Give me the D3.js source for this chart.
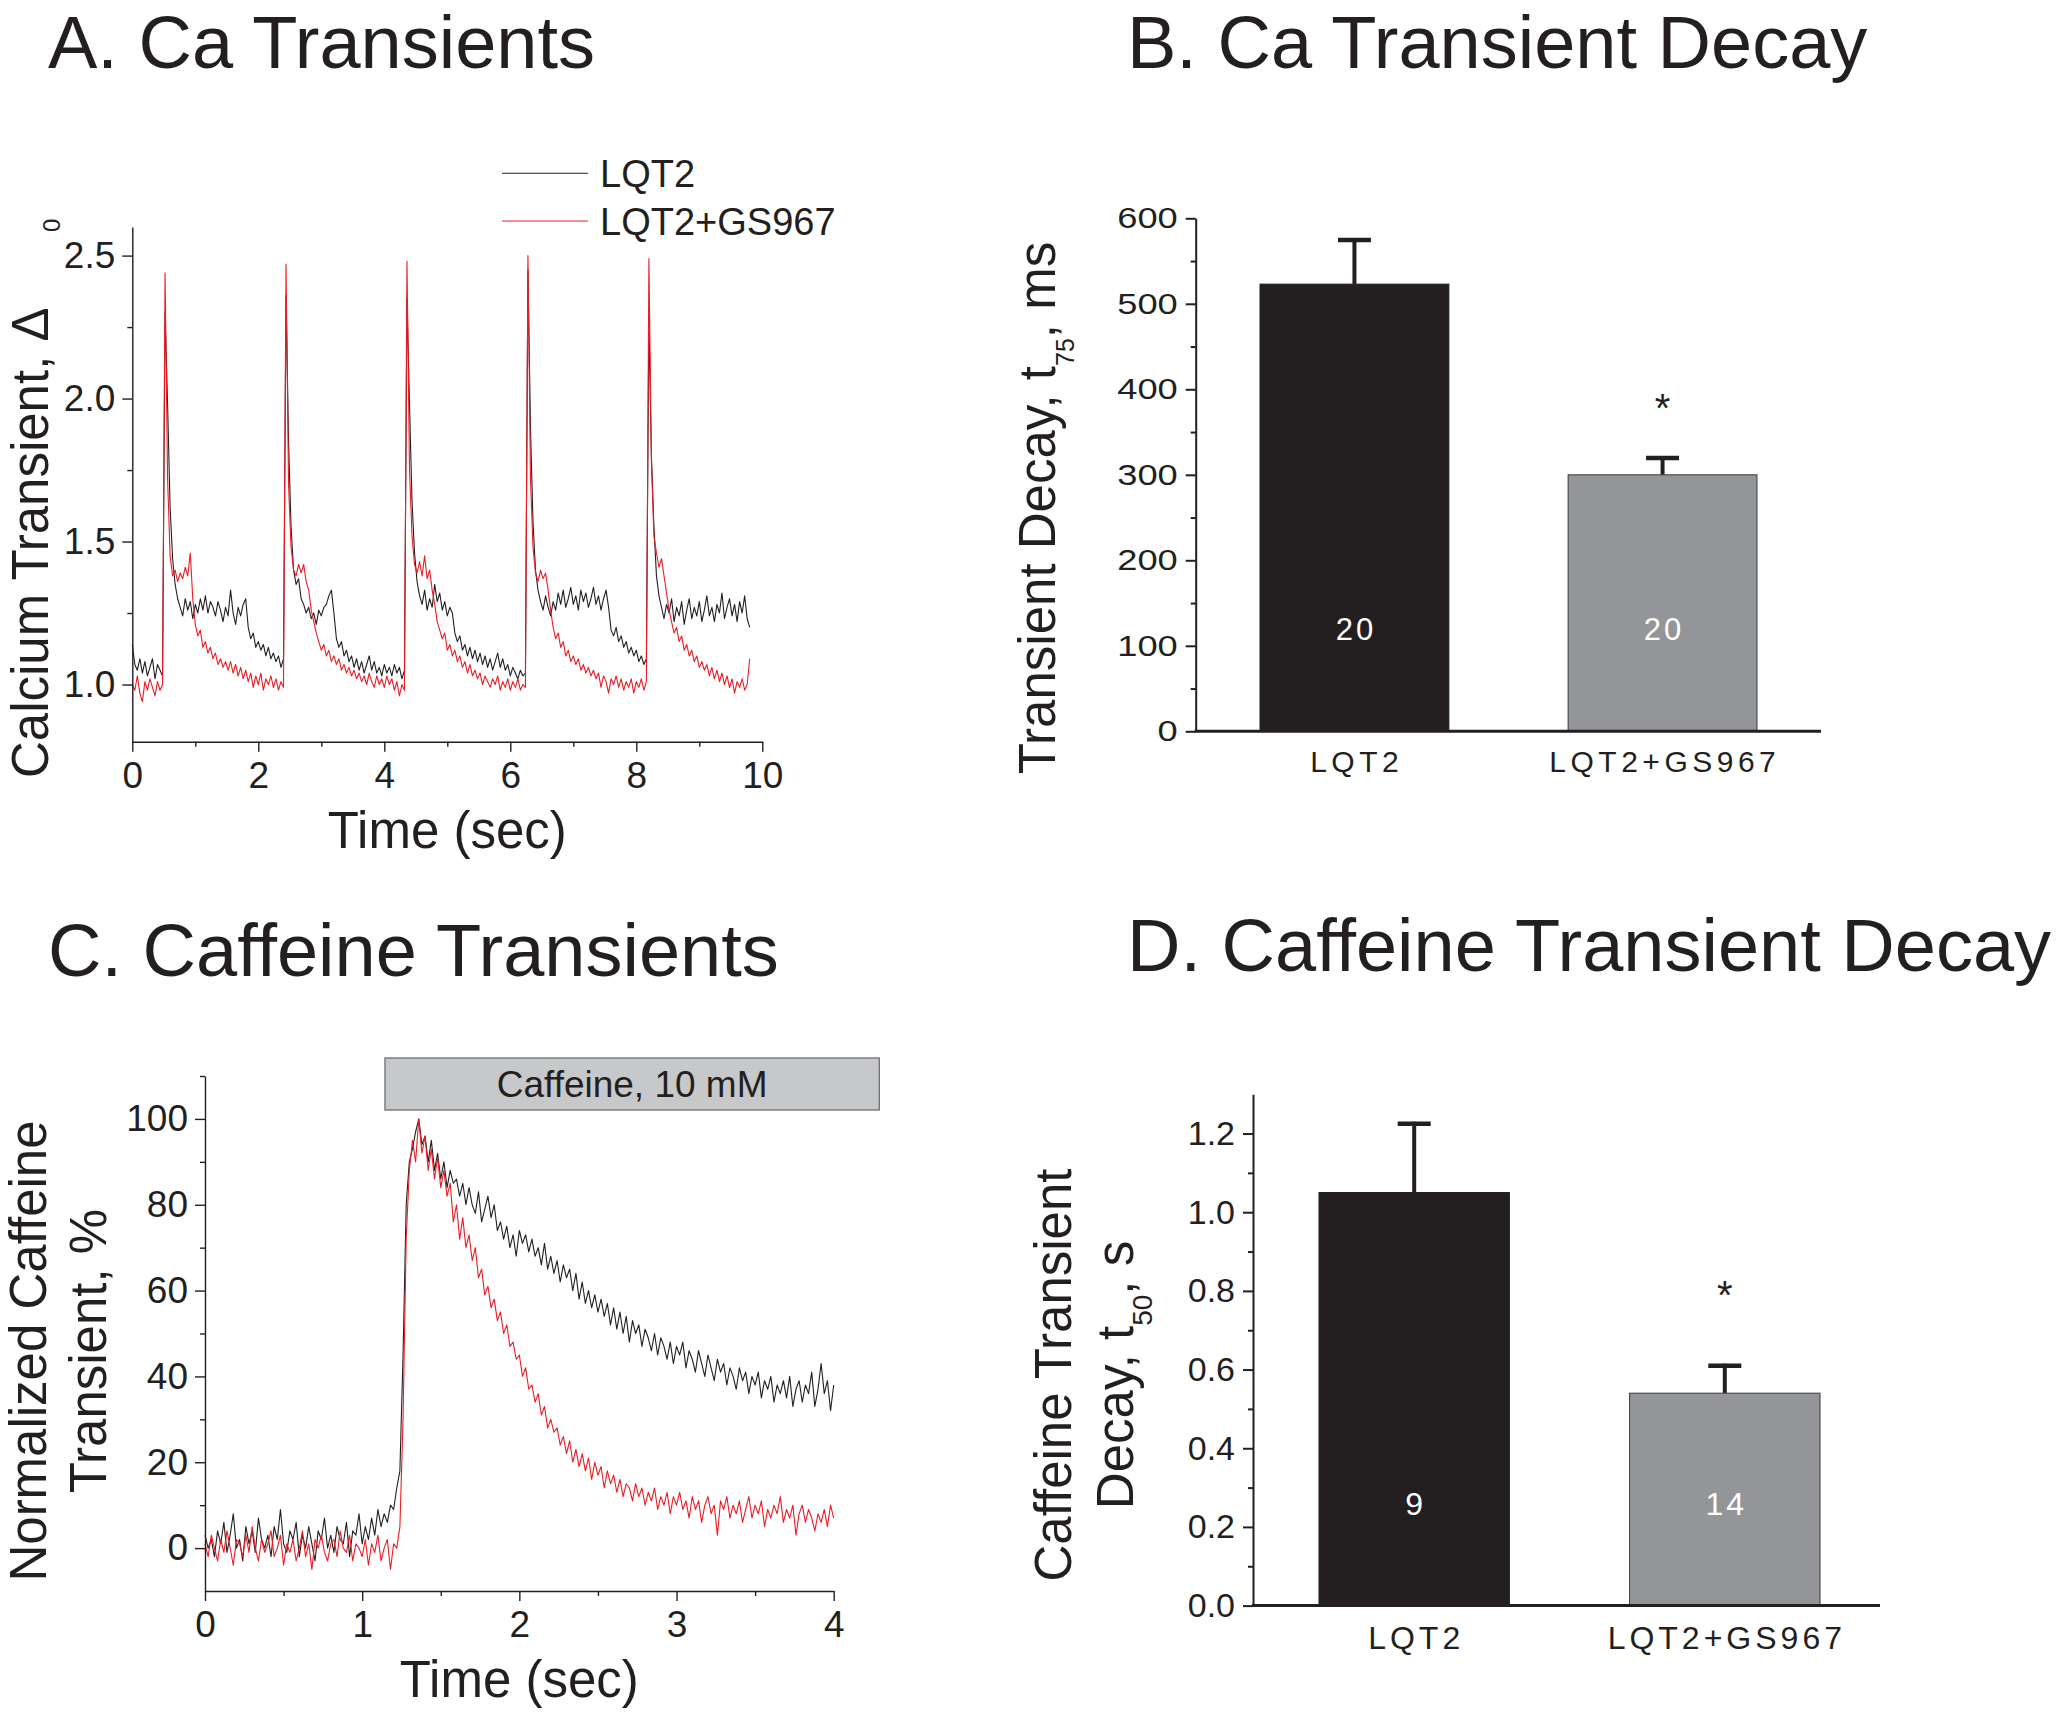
<!DOCTYPE html>
<html><head><meta charset="utf-8">
<script src="https://cdn.jsdelivr.net/npm/d3@7"></script>
<style>
body{margin:0;background:#fff}
svg{display:block}
</style>
</head><body>
<svg id="chart" width="2062" height="1716"></svg>
<script>
// ---------------- DATA ----------------
// Panel A: Ca transients (ΔF/F0), sampled every caStep seconds
const caStep = 0.04;
const caLQT2 = [
1.14,1.07,1.05,1.09,1.04,1.08,1.03,1.06,1.09,1.02,1.07,1.05,1.03,
2.30,1.98,1.62,1.44,1.35,1.30,1.27,1.24,1.30,1.26,1.29,1.23,1.28,1.25,1.30,1.26,1.31,1.25,1.29,1.27,1.24,1.29,1.26,1.22,1.27,1.24,1.33,1.25,1.21,1.27,1.24,1.28,1.30,1.20,1.16,1.18,1.13,1.15,1.12,1.14,1.10,1.13,1.09,1.11,1.08,1.10,1.06,1.09,
2.36,1.85,1.55,1.40,1.35,1.37,1.30,1.28,1.25,1.27,1.23,1.25,1.21,1.26,1.24,1.27,1.28,1.31,1.33,1.25,1.16,1.13,1.15,1.10,1.12,1.08,1.10,1.06,1.09,1.05,1.08,1.04,1.07,1.10,1.05,1.08,1.04,1.06,1.03,1.07,1.04,1.06,1.03,1.07,1.04,1.06,1.02,1.05,
2.35,1.98,1.64,1.46,1.36,1.31,1.28,1.33,1.26,1.30,1.27,1.35,1.29,1.32,1.26,1.29,1.24,1.27,1.25,1.18,1.15,1.17,1.12,1.14,1.10,1.13,1.09,1.12,1.08,1.11,1.07,1.10,1.06,1.09,1.05,1.08,1.11,1.06,1.09,1.05,1.07,1.03,1.06,1.04,1.02,1.05,1.03,1.04,
2.45,1.90,1.57,1.40,1.33,1.29,1.26,1.31,1.27,1.24,1.29,1.26,1.32,1.28,1.33,1.27,1.30,1.34,1.28,1.31,1.26,1.33,1.29,1.32,1.27,1.30,1.34,1.28,1.31,1.26,1.30,1.33,1.27,1.19,1.17,1.20,1.15,1.17,1.13,1.15,1.11,1.13,1.10,1.12,1.08,1.10,1.07,1.09,
2.27,1.80,1.55,1.38,1.31,1.27,1.23,1.28,1.25,1.30,1.22,1.27,1.24,1.29,1.21,1.26,1.30,1.23,1.27,1.24,1.29,1.22,1.26,1.31,1.24,1.27,1.22,1.28,1.25,1.32,1.23,1.27,1.30,1.24,1.28,1.22,1.29,1.25,1.31,1.23,1.20
];
const caGS967 = [
1.00,0.98,1.03,0.97,0.94,1.01,0.98,1.02,0.99,0.96,1.01,0.98,1.00,
2.44,1.72,1.45,1.38,1.40,1.36,1.39,1.37,1.41,1.38,1.46,1.30,1.21,1.17,1.19,1.13,1.15,1.11,1.13,1.09,1.11,1.07,1.09,1.06,1.08,1.05,1.08,1.04,1.07,1.03,1.06,1.02,1.05,1.01,1.04,0.99,1.03,1.00,1.04,0.98,1.02,1.00,1.03,0.99,1.02,0.98,1.01,0.99,
2.47,1.70,1.48,1.40,1.38,1.42,1.39,1.42,1.36,1.33,1.26,1.22,1.18,1.15,1.12,1.14,1.10,1.12,1.08,1.10,1.07,1.09,1.05,1.07,1.04,1.06,1.03,1.05,1.02,1.04,1.01,1.03,1.00,1.04,1.01,0.99,1.03,1.00,1.02,0.99,1.03,1.00,1.02,0.98,1.01,0.96,1.00,0.98,
2.48,1.75,1.52,1.42,1.39,1.43,1.38,1.45,1.37,1.40,1.33,1.28,1.22,1.19,1.16,1.18,1.12,1.14,1.10,1.12,1.08,1.10,1.06,1.08,1.04,1.07,1.03,1.05,1.02,1.04,1.00,1.03,1.01,0.99,1.02,1.00,1.03,0.98,1.01,0.99,1.02,0.98,1.01,0.99,1.02,0.98,1.00,0.99,
2.50,1.72,1.48,1.39,1.36,1.40,1.37,1.39,1.33,1.26,1.20,1.16,1.18,1.13,1.15,1.10,1.12,1.08,1.10,1.07,1.09,1.05,1.07,1.04,1.06,1.03,1.05,1.02,1.04,0.99,1.03,1.01,0.97,1.02,1.00,1.03,0.99,1.02,0.98,1.01,0.99,1.02,0.97,1.01,0.99,1.02,0.98,1.01,
2.49,1.78,1.52,1.46,1.41,1.44,1.38,1.32,1.26,1.22,1.18,1.20,1.15,1.17,1.12,1.14,1.10,1.12,1.08,1.10,1.06,1.08,1.05,1.07,1.03,1.06,1.02,1.05,1.01,1.04,1.00,1.03,0.99,1.02,0.97,1.01,0.99,1.02,0.98,1.00,1.09
];
const caXTicks = [0, 2, 4, 6, 8, 10];
const caXMinor = [1, 3, 5, 7, 9];
const caYTicks = [1.0, 1.5, 2.0, 2.5];
const caYMinor = [1.25, 1.75, 2.25];
const legendLabels = ["LQT2", "LQT2+GS967"];

// Panel C: normalized caffeine transients (%), sampled every cafStep seconds
const cafStep = 0.02;
const cafLQT2 = [
3,0,2,-2,4,1,6,-1,3,8,0,2,-3,5,1,4,-1,7,2,0,3,-2,5,2,9,1,-1,4,2,6,-2,3,0,5,1,-3,4,2,7,0,3,-1,5,2,1,6,-2,4,3,8,1,5,2,7,3,9,
5,8,6,10,9,14,18,
45,80,90,93,97,100,94,96,90,95,88,92,86,90,84,88,85,86,82,85,80,84,80,78,83,76,79,82,77,80,74,76,72,75,70,73,68,74,71,73,69,72,68,70,66,71,65,68,64,67,62,66,63,65,60,64,58,62,57,60,56,59,55,58,54,57,52,56,51,55,50,54,48,53,50,52,47,51,49,46,50,45,49,47,44,48,43,47,45,48,42,46,44,41,46,43,40,45,42,39,44,41,43,38,42,40,37,42,39,41,36,40,38,41,35,39,37,40,34,38,36,39,35,40,33,37,39,34,38,36,41,33,37,43,36,39,32,38
];
const cafGS967 = [
1,-2,3,0,-3,2,-1,4,0,-4,2,1,-2,3,-1,5,0,-3,2,-1,1,4,-2,0,3,-4,1,-1,2,-3,0,4,-2,1,-5,2,0,3,-1,-3,1,2,-2,4,0,-1,3,-3,1,0,-2,2,-4,1,-1,3,-3,0,2,-5,1,
0,5,30,72,88,95,90,100,92,96,88,93,86,91,84,88,82,85,76,80,72,77,70,73,67,70,63,65,59,61,56,58,53,55,50,52,47,48,44,45,40,42,37,38,34,36,31,33,28,30,27,28,24,26,22,25,20,23,19,22,18,21,16,20,17,19,14,18,15,17,13,16,12,15,14,11,15,12,14,10,13,11,14,9,12,10,13,8,12,10,13,9,11,7,12,9,11,6,10,12,8,10,3,11,9,12,7,10,8,11,6,9,12,7,10,8,11,5,9,7,10,8,12,6,9,7,10,3,8,10,6,9,7,4,8,6,9,5,10,7
];
const caffeineWindow = [1.145, 4.29];
const caffeineLabel = "Caffeine, 10 mM";
const cafXTicks = [0, 1, 2, 3, 4];
const cafXMinor = [0.5, 1.5, 2.5, 3.5];
const cafYTicks = [0, 20, 40, 60, 80, 100];
const cafYMinor = [10, 30, 50, 70, 90, 110];

// Panel B: Ca transient decay t75 (ms)
const barCategories = ["LQT2", "LQT2+GS967"];
const t75Mean = [523, 300];
const t75Sem = [54, 22];
const t75N = ["20", "20"];
const t75Ticks = [0, 100, 200, 300, 400, 500, 600];
const t75Minor = [50, 150, 250, 350, 450, 550];

// Panel D: caffeine transient decay t50 (s)
const t50Mean = [1.05, 0.54];
const t50Sem = [0.18, 0.075];
const t50N = ["9", "14"];
const t50Ticks = [0, 0.2, 0.4, 0.6, 0.8, 1.0, 1.2];
const t50Minor = [0.1, 0.3, 0.5, 0.7, 0.9, 1.1];

// ---------------- DRAWING ----------------
const FONT = '"Liberation Sans", Arial, Helvetica, sans-serif';
const INK = "#231f20";
const RED = "#ed1c24";
const GRAY = "#939598";
const svg = d3.select("#chart");
svg.append("rect").attr("width", 2062).attr("height", 1716).attr("fill", "#fff");

function txt(g, x, y, s, size, opts = {}) {
  const t = g.append("text").attr("x", x).attr("y", y).text(s)
    .attr("font-family", FONT).attr("font-size", size).attr("fill", opts.fill || INK)
    .attr("text-anchor", opts.anchor || "start");
  if (opts.ls) t.attr("letter-spacing", opts.ls);
  return t;
}
function styleAxis(g, size, sw, stretch) {
  g.attr("font-family", FONT).attr("font-size", size);
  g.select(".domain").attr("stroke", INK).attr("stroke-width", sw);
  g.selectAll(".tick line").attr("stroke", INK).attr("stroke-width", sw);
  g.selectAll(".tick text").attr("fill", INK);
  if (stretch) {
    g.selectAll(".tick text").each(function () {
      const L = this.getComputedTextLength();
      d3.select(this).attr("textLength", L * stretch).attr("lengthAdjust", "spacingAndGlyphs");
    });
  }
}
function minorAxis(parent, axisFn, scale, vals, transform, sw) {
  const g = parent.append("g").attr("transform", transform)
    .call(axisFn(scale).tickValues(vals).tickSize(5).tickFormat(""));
  g.select(".domain").remove();
  g.selectAll(".tick line").attr("stroke", INK).attr("stroke-width", sw);
}

// Titles
txt(svg, 48, 68, "A. Ca Transients", 74);
txt(svg, 1127, 68, "B. Ca Transient Decay", 74);
txt(svg, 48, 976, "C. Caffeine Transients", 74);
txt(svg, 1127, 971, "D. Caffeine Transient Decay", 74);

// ---------- Panel A ----------
{
  const x = d3.scaleLinear().domain([0, 10]).range([132.3, 762.3]);
  const y = d3.scaleLinear().domain([0.8, 2.6]).range([741.7, 227]);
  const g = svg.append("g");
  const line = (step) => d3.line().x((d, i) => x(i * step)).y(d => y(d));
  g.append("path").datum(caLQT2).attr("d", line(caStep)).attr("fill", "none")
    .attr("stroke", INK).attr("stroke-width", 1.1).attr("stroke-linejoin", "round");
  g.append("path").datum(caGS967).attr("d", line(caStep)).attr("fill", "none")
    .attr("stroke", RED).attr("stroke-width", 1.1).attr("stroke-linejoin", "round");

  const gx = g.append("g").attr("transform", "translate(0,741.7)")
    .call(d3.axisBottom(x).tickValues(caXTicks).tickSize(10).tickSizeOuter(0).tickPadding(10).tickFormat(d3.format("d")));
  styleAxis(gx, 37, 1.4);
  minorAxis(g, d3.axisBottom, x, caXMinor, "translate(0,741.7)", 1.4);
  const gy = g.append("g").attr("transform", "translate(132.3,0)")
    .call(d3.axisLeft(y).tickValues(caYTicks).tickSize(10).tickSizeOuter(0).tickPadding(7).tickFormat(d3.format(".1f")));
  styleAxis(gy, 37, 1.4);
  minorAxis(g, d3.axisLeft, y, caYMinor, "translate(132.3,0)", 1.4);

  txt(g, x(5), 848, "Time (sec)", 51, { anchor: "middle" });
  txt(g, 0, 0, "Calcium Transient, Δ", 51).attr("transform", "translate(48,778) rotate(-90)");
  txt(g, 0, 0, "0", 24).attr("transform", "translate(60,232) rotate(-90)");

  // legend
  const ly = [173.3, 221];
  [INK, RED].forEach((c, i) => {
    g.append("line").attr("x1", 502).attr("x2", 588).attr("y1", ly[i]).attr("y2", ly[i])
      .attr("stroke", c).attr("stroke-width", 1.1);
    txt(g, 600, ly[i] + 13.5, legendLabels[i], 38);
  });
}

// ---------- Panel C ----------
{
  const x = d3.scaleLinear().domain([0, 4]).range([205, 833.7]);
  const y = d3.scaleLinear().domain([-10, 110]).range([1591, 1076]);
  const g = svg.append("g");
  const line = (step) => d3.line().x((d, i) => x(i * step)).y(d => y(d));
  g.append("path").datum(cafLQT2).attr("d", line(cafStep)).attr("fill", "none")
    .attr("stroke", INK).attr("stroke-width", 1.1).attr("stroke-linejoin", "round");
  g.append("path").datum(cafGS967).attr("d", line(cafStep)).attr("fill", "none")
    .attr("stroke", RED).attr("stroke-width", 1.1).attr("stroke-linejoin", "round");

  const gx = g.append("g").attr("transform", "translate(0,1591)")
    .call(d3.axisBottom(x).tickValues(cafXTicks).tickSize(10).tickSizeOuter(0).tickPadding(10).tickFormat(d3.format("d")));
  styleAxis(gx, 37, 1.4);
  minorAxis(g, d3.axisBottom, x, cafXMinor, "translate(0,1591)", 1.4);
  const gy = g.append("g").attr("transform", "translate(205,0)")
    .call(d3.axisLeft(y).tickValues(cafYTicks).tickSize(10).tickSizeOuter(0).tickPadding(7).tickFormat(d3.format("d")));
  styleAxis(gy, 37, 1.4);
  minorAxis(g, d3.axisLeft, y, cafYMinor, "translate(205,0)", 1.4);

  // caffeine application bar
  g.append("rect").attr("x", x(caffeineWindow[0])).attr("y", 1058)
    .attr("width", x(caffeineWindow[1]) - x(caffeineWindow[0])).attr("height", 52)
    .attr("fill", "#c7c8ca").attr("stroke", "#6d6e71").attr("stroke-width", 1.3);
  txt(g, (x(caffeineWindow[0]) + x(caffeineWindow[1])) / 2, 1097, caffeineLabel, 37, { anchor: "middle" });

  txt(g, x(2), 1697, "Time (sec)", 51, { anchor: "middle" });
  txt(g, 0, 0, "Normalized Caffeine", 51, { anchor: "middle" }).attr("transform", "translate(46,1351) rotate(-90)");
  txt(g, 0, 0, "Transient, %", 51, { anchor: "middle" }).attr("transform", "translate(106,1351) rotate(-90)");
}

// ---------- Bar panels ----------
function barPanel(cfg) {
  const g = svg.append("g");
  const x = d3.scaleBand().domain(barCategories).range(cfg.bandRange).paddingInner(0.387).paddingOuter(0);
  const y = d3.scaleLinear().domain(cfg.domain).range(cfg.yRange);
  const fills = [INK, GRAY];
  // error bars (behind bars)
  barCategories.forEach((c, i) => {
    const cx = x(c) + x.bandwidth() / 2;
    const top = y(cfg.mean[i] + cfg.sem[i]);
    g.append("line").attr("x1", cx).attr("x2", cx).attr("y1", y(cfg.mean[i])).attr("y2", top)
      .attr("stroke", INK).attr("stroke-width", 4);
    g.append("line").attr("x1", cx - 16.5).attr("x2", cx + 16.5).attr("y1", top + 2).attr("y2", top + 2)
      .attr("stroke", INK).attr("stroke-width", 4.5);
  });
  barCategories.forEach((c, i) => {
    g.append("rect").attr("x", x(c)).attr("y", y(cfg.mean[i]))
      .attr("width", x.bandwidth()).attr("height", y(0) - y(cfg.mean[i]))
      .attr("fill", fills[i]).attr("stroke", i ? "#3a3a3a" : INK).attr("stroke-width", 1);
    const cx = x(c) + x.bandwidth() / 2;
    txt(g, cx + cfg.nLs / 2, cfg.nY, cfg.n[i], cfg.nSize, { anchor: "middle", fill: "#fff", ls: cfg.nLs });
    txt(g, cx + cfg.catLs / 2, cfg.catY, c, cfg.catSize, { anchor: "middle", ls: cfg.catLs });
  });
  // significance star
  const cx2 = x(barCategories[1]) + x.bandwidth() / 2;
  txt(g, cx2, cfg.starY, "*", 40, { anchor: "middle" });

  const gy = g.append("g").attr("transform", `translate(${cfg.axisX},0)`)
    .call(d3.axisLeft(y).tickValues(cfg.ticks).tickSize(10).tickSizeOuter(0).tickPadding(8).tickFormat(cfg.fmt));
  styleAxis(gy, cfg.tickSize, 2, cfg.tickStretch);
  minorAxis(g, d3.axisLeft, y, cfg.minor, `translate(${cfg.axisX},0)`, 2);
  // baseline
  g.append("line").attr("x1", cfg.axisX - 1).attr("x2", cfg.axisEnd).attr("y1", y(0)).attr("y2", y(0))
    .attr("stroke", INK).attr("stroke-width", 3);
  return g;
}

const gB = barPanel({
  bandRange: [1260, 1757], domain: [0, 600], yRange: [731.3, 218.3],
  mean: t75Mean, sem: t75Sem, n: t75N, nY: 640, nSize: 31, nLs: 3,
  catY: 772, catSize: 30, catLs: 4.5, starY: 422,
  axisX: 1195.7, axisEnd: 1821, ticks: t75Ticks, minor: t75Minor, fmt: d3.format("d"),
  tickSize: 29, tickStretch: 1.25
});
{
  const t = txt(gB, 0, 0, "Transient Decay, t", 51, { anchor: "middle" }).attr("transform", "translate(1055,508) rotate(-90)");
  t.append("tspan").attr("font-size", 25).attr("dy", 19).text("75");
  t.append("tspan").attr("dy", -19).text(", ms");
}

const gD = barPanel({
  bandRange: [1319, 1820], domain: [0, 1.3], yRange: [1605.6, 1094.2],
  mean: t50Mean, sem: t50Sem, n: t50N, nY: 1515, nSize: 32, nLs: 3,
  catY: 1649, catSize: 32, catLs: 4, starY: 1309,
  axisX: 1253, axisEnd: 1880, ticks: t50Ticks, minor: t50Minor, fmt: d3.format(".1f"),
  tickSize: 34, tickStretch: 1.0
});
{
  txt(gD, 0, 0, "Caffeine Transient", 51, { anchor: "middle" }).attr("transform", "translate(1071,1375) rotate(-90)");
  const t = txt(gD, 0, 0, "Decay, t", 51, { anchor: "middle" }).attr("transform", "translate(1133,1375) rotate(-90)");
  t.append("tspan").attr("font-size", 28).attr("dy", 19).text("50");
  t.append("tspan").attr("dy", -19).text(", s");
}
</script>
</body></html>
